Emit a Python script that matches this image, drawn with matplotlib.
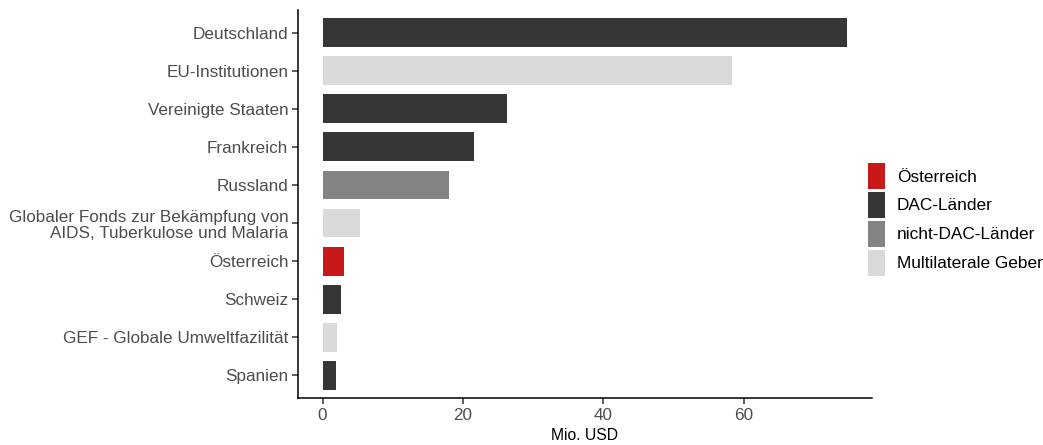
import matplotlib
matplotlib.use('Agg')
import matplotlib.pyplot as plt
from matplotlib.patches import Patch

plt.rcParams['font.family'] = ['Liberation Sans', 'DejaVu Sans']

donors = ['Deutschland', 'EU-Institutionen', 'Vereinigte Staaten', 'Frankreich', 'Russland',
          'Globaler Fonds zur Bekämpfung von\nAIDS, Tuberkulose und Malaria',
          'Österreich', 'Schweiz', 'GEF - Globale Umweltfazilität', 'Spanien']
values = [74.7, 58.3, 26.3, 21.6, 18.0, 5.3, 3.0, 2.7, 2.1, 1.9]
groups = ['DAC-Länder', 'Multilaterale Geber', 'DAC-Länder', 'DAC-Länder', 'nicht-DAC-Länder',
          'Multilaterale Geber', 'Österreich', 'DAC-Länder', 'Multilaterale Geber', 'DAC-Länder']

group_order = ['Österreich', 'DAC-Länder', 'nicht-DAC-Länder', 'Multilaterale Geber']
group_colors = {'Österreich': '#C8191A', 'DAC-Länder': '#363636',
                'nicht-DAC-Länder': '#838383', 'Multilaterale Geber': '#D9D9D9'}

fig = plt.figure(figsize=(10.43, 4.45), dpi=100)
ax = fig.add_axes([0.2857, 0.1056, 0.836 - 0.2857, 0.9775 - 0.1056])

ypos = list(range(len(donors)))[::-1]
ax.barh(ypos, values, height=0.76, color=[group_colors[g] for g in groups])

ax.set_yticks(ypos)
ax.set_yticklabels(donors, linespacing=1.1)
ax.set_xticks([0, 20, 40, 60])
ax.set_xlim(-3.5, 78.3)
ax.set_ylim(-0.6, len(donors) - 0.4)
ax.set_xlabel('Mio. USD', fontsize=11.3, color='black', labelpad=4)

for side in ['top', 'right']:
    ax.spines[side].set_visible(False)
for side in ['left', 'bottom']:
    ax.spines[side].set_linewidth(1.1)
    ax.spines[side].set_color('black')
ax.tick_params(axis='both', length=4, width=1.1, color='#333333', labelcolor='#4D4D4D',
               labelsize=12.3, pad=3)

handles = [Patch(facecolor=group_colors[g], edgecolor='none', label=g) for g in group_order]
fig.legend(handles=handles, loc='center left', bbox_to_anchor=(0.832, 0.507), frameon=False,
           fontsize=12.4, borderpad=0, borderaxespad=0, handlelength=0.99, handleheight=1.94,
           labelspacing=0.17, handletextpad=0.7)

fig.savefig('out.png', dpi=100)
